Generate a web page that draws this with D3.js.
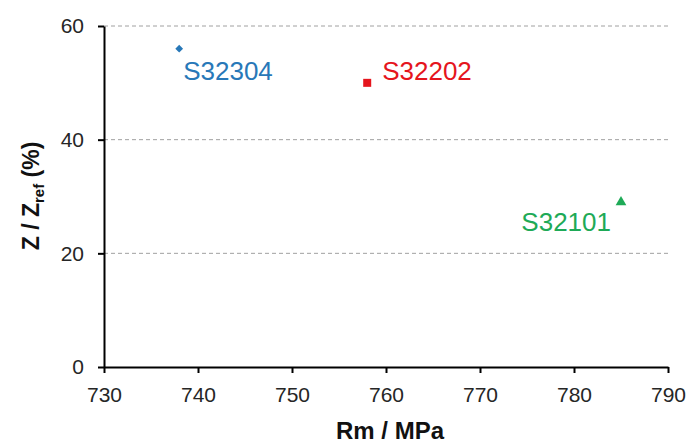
<!DOCTYPE html>
<html>
<head>
<meta charset="utf-8">
<script src="https://cdn.jsdelivr.net/npm/d3@7"></script>
<style>
  body { margin: 0; background: #fff; }
  text { font-family: "Liberation Sans", Arial, sans-serif; }
</style>
</head>
<body>
<div id="chart"></div>
<script>
const grades = ['S32304', 'S32202', 'S32101']
const rm = [738, 758, 785]
const zRatio = [56, 50, 29]
const colors = ['#2878b8', '#e5151d', '#1eaa57']
const shapes = [d3.symbolSquare, d3.symbolSquare, d3.symbolTriangle]
const xTicks = [730, 740, 750, 760, 770, 780, 790]
const yTicks = [0, 20, 40, 60]

const width = 689, height = 444
const margin = {top: 26, right: 21, bottom: 77, left: 104}
const w = width - margin.left - margin.right
const h = height - margin.top - margin.bottom

const svg = d3.select('#chart').append('svg')
    .attr('width', width)
    .attr('height', height)

const g = svg.append('g')
    .attr('transform', `translate(${margin.left}, ${margin.top})`)

const x = d3.scaleLinear().domain([730, 790]).range([0, w])
const y = d3.scaleLinear().domain([0, 60]).range([h, 0])

// grid lines
g.append('g').selectAll('line')
  .data(yTicks.filter(d => d > 0))
  .join('line')
    .attr('x1', 0).attr('x2', w)
    .attr('y1', d => y(d)).attr('y2', d => y(d))
    .attr('stroke', '#a0a0a0')
    .attr('stroke-width', 1)
    .attr('stroke-dasharray', '4,3')

// axes
const xAxis = g.append('g')
    .attr('transform', `translate(0, ${h})`)
    .call(d3.axisBottom(x).tickValues(xTicks).tickSize(6).tickPadding(14).tickSizeOuter(0))
xAxis.selectAll('text').attr('font-size', 21).attr('fill', '#262626')
xAxis.selectAll('line, path').attr('stroke', '#000').attr('stroke-width', 2)

const yAxis = g.append('g')
    .call(d3.axisLeft(y).tickValues(yTicks).tickSize(6).tickPadding(14).tickSizeOuter(0))
yAxis.selectAll('text').attr('font-size', 21).attr('fill', '#262626')
yAxis.selectAll('line, path').attr('stroke', '#000').attr('stroke-width', 2)

// axis titles
svg.append('text')
    .attr('x', 390)
    .attr('y', 439)
    .attr('text-anchor', 'middle')
    .attr('font-size', 24)
    .attr('font-weight', 'bold')
    .attr('fill', '#111')
    .text('Rm / MPa')

const yt = svg.append('text')
    .attr('transform', `translate(39, 196) rotate(-90)`)
    .attr('text-anchor', 'middle')
    .attr('font-size', 23)
    .attr('font-weight', 'bold')
    .attr('fill', '#111')
yt.append('tspan').text('Z / Z')
yt.append('tspan').attr('font-size', 15).attr('dy', 5).text('ref')
yt.append('tspan').attr('dy', -5).text(' (%)')

// points
const data = grades.map((d, i) => ({name: d, x: rm[i], y: zRatio[i], color: colors[i], shape: shapes[i]}))
const sizes = [30, 64, 50]
const rotations = [45, 0, 0]

g.selectAll('.pt')
  .data(data)
  .join('path')
    .attr('class', 'pt')
    .attr('transform', (d, i) => `translate(${x(d.x)}, ${y(d.y)}) rotate(${rotations[i]})`)
    .attr('d', (d, i) => d3.symbol().type(d.shape).size(sizes[i])())
    .attr('fill', d => d.color)

// labels
const labelOffset = [[4, 31], [15, -3], [-10, 29]]
const anchors = ['start', 'start', 'end']
g.selectAll('.lbl')
  .data(data)
  .join('text')
    .attr('class', 'lbl')
    .attr('x', (d, i) => x(d.x) + labelOffset[i][0])
    .attr('y', (d, i) => y(d.y) + labelOffset[i][1])
    .attr('text-anchor', (d, i) => anchors[i])
    .attr('font-size', 26)
    .attr('fill', d => d.color)
    .text(d => d.name)
</script>
</body>
</html>
